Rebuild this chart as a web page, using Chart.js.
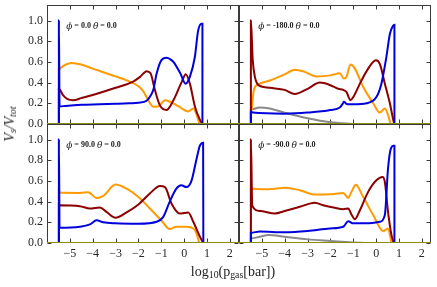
<!DOCTYPE html>
<html>
<head>
<meta charset="utf-8">
<script src="https://cdn.jsdelivr.net/npm/chart.js@4/dist/chart.umd.min.js"></script>
<style>
  body { margin: 0; background: #fff; }
  #wrap { position: relative; width: 437px; height: 287px; overflow: hidden; }
  #wrap canvas { position: absolute; }
  .ylab { position: absolute; left: 10px; top: 124px; transform: translate(-50%, -50%) rotate(-90deg);
    font: italic 14px "Liberation Serif", serif; color: #222; white-space: nowrap; }
  .xlab { position: absolute; left: 233px; top: 272px; transform: translate(-50%, -50%);
    font: 14px "Liberation Serif", serif; color: #222; white-space: nowrap; }
  sub { font-size: 70%; vertical-align: -0.25em; line-height: 0; }
</style>
</head>
<body>
<div id="wrap">
  <canvas id="p0" width="245" height="154" style="left:0;top:0"></canvas>
  <canvas id="p1" width="245" height="154" style="left:192px;top:0"></canvas>
  <canvas id="p2" width="245" height="154" style="left:0;top:119px"></canvas>
  <canvas id="p3" width="245" height="154" style="left:192px;top:119px"></canvas>
  <div class="ylab">V<sub>s</sub>/V<sub>tot</sub></div>
  <div class="xlab">log<sub>10</sub>(p<sub>gas</sub>[bar])</div>
</div>
<script>
// axis settings
const xMin = -6, xMax = 2.4;
const yMin = 0, yMax = 1.15;
const xTicks = [-5, -4, -3, -2, -1, 0, 1, 2];
const yTicks = [0, 0.2, 0.4, 0.6, 0.8, 1.0];

const panelPhi = ['0.0', '-180.0', '90.0', '-90.0'];
const panelTheta = ['0.0', '0.0', '0.0', '0.0'];

// [log10 p, V_s/V_tot]
// phi = 0
const blue0 = [[-5.48,0],[-5.48,1.0],[-5.45,0.17],[-5.2,0.175],[-4.5,0.185],[-3.7,0.19],[-3,0.195],[-2.4,0.2],[-2,0.205],[-1.64,0.225],[-1.45,0.28],[-1.35,0.33],[-1.2,0.49],[-1,0.615],[-0.77,0.64],[-0.6,0.625],[-0.47,0.6],[-0.17,0.49],[0.06,0.39],[0.25,0.455],[0.47,0.65],[0.61,0.9],[0.76,0.97],[0.8,0.97],[0.8,0]];
const orange0 = [[-5.48,0],[-5.48,0.53],[-5.3,0.56],[-4.93,0.59],[-4.5,0.575],[-4,0.535],[-3,0.46],[-2.38,0.41],[-2,0.365],[-1.8,0.32],[-1.64,0.26],[-1.35,0.167],[-1.13,0.17],[-0.84,0.23],[-0.62,0.215],[-0.17,0.16],[0.18,0.12],[0.4,0.15],[0.55,0.087],[0.67,0]];
const red0 = [[-5.48,0],[-5.48,0.34],[-5.3,0.28],[-5.1,0.24],[-4.85,0.23],[-4.5,0.25],[-4,0.28],[-3,0.35],[-2.23,0.41],[-1.93,0.455],[-1.64,0.51],[-1.47,0.49],[-1.28,0.33],[-1.06,0.18],[-0.77,0.135],[-0.47,0.23],[-0.1,0.41],[0.07,0.48],[0.25,0.39],[0.47,0.17],[0.69,0.04],[0.8,0]];
const gray0 = [];
// phi = -180
const blue1 = [[-5.48,0],[-5.48,0.12],[-5.4,0.11],[-4,0.1],[-3,0.11],[-2,0.135],[-1.59,0.16],[-1.45,0.2],[-1.41,0.215],[-1.3,0.195],[-1.22,0.19],[-1,0.19],[-0.42,0.2],[0.01,0.26],[0.23,0.39],[0.45,0.65],[0.6,0.87],[0.74,0.95],[0.8,0.96],[0.8,0]];
const orange1 = [[-5.48,0],[-5.48,0.1],[-5.35,0.33],[-5.1,0.39],[-4.65,0.42],[-4,0.48],[-3.56,0.525],[-3.2,0.51],[-2.6,0.46],[-2,0.47],[-1.59,0.49],[-1.41,0.44],[-1.3,0.455],[-1.12,0.575],[-0.93,0.535],[-0.57,0.36],[-0.13,0.2],[0.16,0.11],[0.38,0.15],[0.52,0.087],[0.63,0]];
const red1 = [[-5.48,0],[-5.48,1.0],[-5.4,0.62],[-5.3,0.45],[-5.2,0.39],[-5.05,0.365],[-4.65,0.35],[-4,0.33],[-3.56,0.29],[-3,0.34],[-2.46,0.4],[-2,0.375],[-1.66,0.34],[-1.44,0.33],[-1.3,0.31],[-1.12,0.23],[-1,0.26],[-0.71,0.39],[-0.35,0.535],[-0.01,0.615],[0.16,0.58],[0.38,0.39],[0.6,0.2],[0.77,0.02],[0.8,0]];
const gray1 = [[-5.48,0],[-5.48,0.14],[-5.09,0.16],[-4.65,0.15],[-4,0.11],[-3,0.055],[-2,0.016],[-1,0]];
// phi = 90
const blue2 = [[-5.48,0],[-5.48,1.0],[-5.45,0.147],[-4.56,0.157],[-4.12,0.18],[-3.83,0.22],[-3.54,0.2],[-3,0.19],[-2,0.186],[-1.2,0.205],[-0.92,0.25],[-0.63,0.4],[-0.34,0.525],[-0.12,0.557],[0.1,0.54],[0.32,0.6],[0.54,0.81],[0.69,0.94],[0.83,0.97],[0.84,0]];
const orange2 = [[-5.48,0],[-5.48,0.53],[-5.45,0.487],[-4.56,0.484],[-4.2,0.49],[-3.83,0.435],[-3.54,0.455],[-3,0.565],[-2.52,0.525],[-2,0.445],[-1.5,0.333],[-1,0.22],[-0.63,0.135],[-0.34,0.157],[0.1,0.157],[0.4,0.14],[0.54,0.093],[0.66,0]];
const red2 = [[-5.48,0],[-5.48,0.365],[-4.56,0.356],[-4.12,0.333],[-3.69,0.343],[-3.4,0.3],[-3,0.244],[-2.52,0.295],[-2,0.372],[-1.5,0.478],[-1.06,0.55],[-0.84,0.54],[-0.55,0.38],[-0.19,0.285],[0.18,0.295],[0.4,0.205],[0.69,0.06],[0.84,0]];
const gray2 = [];
// phi = -90
const blue3 = [[-5.48,0],[-5.48,0.1],[-5.09,0.11],[-4,0.103],[-3,0.115],[-2.03,0.14],[-1.44,0.157],[-1.22,0.21],[-1,0.19],[-0.42,0.19],[0.16,0.205],[0.38,0.27],[0.52,0.72],[0.64,0.91],[0.77,0.94],[0.8,0.94],[0.8,0]];
const orange3 = [[-5.48,0],[-5.48,0.52],[-5.4,0.525],[-4.94,0.52],[-4.43,0.525],[-4,0.535],[-3.34,0.51],[-2.68,0.468],[-2.03,0.47],[-1.44,0.484],[-1.22,0.436],[-1.08,0.494],[-0.89,0.564],[-0.57,0.446],[-0.13,0.27],[0.31,0.115],[0.52,0.14],[0.67,0]];
const red3 = [[-5.48,0],[-5.48,1.0],[-5.42,0.36],[-5.09,0.31],[-4.43,0.285],[-4,0.31],[-3.34,0.35],[-2.68,0.39],[-2.32,0.365],[-1.81,0.34],[-1.44,0.327],[-1.22,0.333],[-1.08,0.275],[-0.93,0.23],[-0.71,0.317],[-0.35,0.494],[0.01,0.606],[0.28,0.638],[0.38,0.59],[0.52,0.3],[0.67,0.077],[0.77,0]];
const gray3 = [[-5.48,0],[-5.48,0.045],[-5.09,0.06],[-4.72,0.077],[-4,0.06],[-3,0.035],[-2,0.02],[-1,0.006],[-0.5,0]];
// species that stays at zero everywhere
const zeroLine = [[-6,0],[2.4,0]];

const tickFont = { family: '"Liberation Serif", serif', size: 12 };

// inward ticks on all four sides + frame
const frameTicks = {
  id: 'frameTicks',
  beforeDatasetsDraw(chart){
    const { ctx, chartArea: a, scales: { x, y } } = chart;
    const L = Math.round(a.left) + 0.5, R = Math.round(a.right) - 0.5;
    const T = Math.round(a.top) + 0.5, B = Math.round(a.bottom) - 0.5;
    ctx.save();
    ctx.strokeStyle = '#3a3a3a'; ctx.lineWidth = 1;
    ctx.strokeRect(L, T, R - L, B - T);
    ctx.beginPath();
    xTicks.forEach(v => {
      const px = Math.round(x.getPixelForValue(v)) + 0.5;
      ctx.moveTo(px, B); ctx.lineTo(px, B - 4);
      ctx.moveTo(px, T); ctx.lineTo(px, T + 4);
    });
    yTicks.forEach(v => {
      const py = Math.round(y.getPixelForValue(v)) + 0.5;
      ctx.moveTo(L, py); ctx.lineTo(L + 4, py);
      ctx.moveTo(R, py); ctx.lineTo(R - 4, py);
    });
    ctx.stroke();
    ctx.restore();
  },
  afterDraw(chart, args, opts){
    const { ctx, chartArea: a } = chart;
    let tx = a.left + 0.1 * a.width;
    const ty = a.top + 0.18 * a.height;
    const parts = [
      ['italic 9px "DejaVu Serif", serif', 'ϕ'],
      ['bold 8px "Liberation Serif", serif', ' = ' + opts.phi + ' '],
      ['italic 9px "DejaVu Serif", serif', 'θ'],
      ['bold 8px "Liberation Serif", serif', ' = ' + opts.theta]
    ];
    ctx.save();
    ctx.fillStyle = '#222'; ctx.textBaseline = 'middle'; ctx.textAlign = 'left';
    parts.forEach(([f, s]) => { ctx.font = f; ctx.fillText(s, tx, ty); tx += ctx.measureText(s).width; });
    ctx.restore();
  }
};

function noPad(s){ s.paddingTop = 0; s.paddingBottom = 0; s.paddingLeft = 0; s.paddingRight = 0; }

function line(data, color, order, width){
  return {
    data: data.map(([x, y]) => ({ x, y })),
    borderColor: color, borderWidth: width || 2, pointRadius: 0,
    fill: false, cubicInterpolationMode: 'monotone', order
  };
}

function makePanel(id, idx, series, showX, showY){
  const [blue, orange, red, gray] = series;
  new Chart(document.getElementById(id), {
    type: 'line',
    data: { datasets: [
      line(zeroLine, '#8c8c10', 0, 2),
      line(blue, '#0000dd', 1),
      line(red, '#8b0000', 2),
      line(orange, '#ff9a00', 3),
      line(gray, '#8a8a8a', 4)
    ] },
    options: {
      responsive: false, animation: false, devicePixelRatio: 1,
      layout: { padding: { left: 0, top: 5, right: 6, bottom: 0 } },
      plugins: { legend: { display: false }, tooltip: { enabled: false }, frameTicks: { phi: panelPhi[idx], theta: panelTheta[idx] } },
      scales: {
        x: {
          type: 'linear', min: xMin, max: xMax,
          grid: { display: false, drawTicks: false }, border: { display: false },
          afterFit: s => { s.height = 30; noPad(s); },
          afterBuildTicks: s => { s.ticks = xTicks.map(v => ({ value: v })); },
          ticks: { display: showX, autoSkip: false, maxRotation: 0, padding: 4, color: '#262626', font: tickFont,
            callback: v => (v < 0 ? '\u2212' + Math.abs(v) : String(v)) }
        },
        y: {
          type: 'linear', min: yMin, max: yMax,
          grid: { display: false, drawTicks: false }, border: { display: false },
          afterFit: s => { s.width = 47; noPad(s); },
          afterBuildTicks: s => { s.ticks = yTicks.map(v => ({ value: v })); },
          ticks: { display: showY, padding: 4, color: '#262626', font: tickFont,
            callback: v => v.toFixed(1) }
        }
      }
    },
    plugins: [frameTicks]
  });
}

makePanel('p0', 0, [blue0, orange0, red0, gray0], false, true);
makePanel('p1', 1, [blue1, orange1, red1, gray1], false, false);
makePanel('p2', 2, [blue2, orange2, red2, gray2], true, true);
makePanel('p3', 3, [blue3, orange3, red3, gray3], true, false);
</script>
</body>
</html>
